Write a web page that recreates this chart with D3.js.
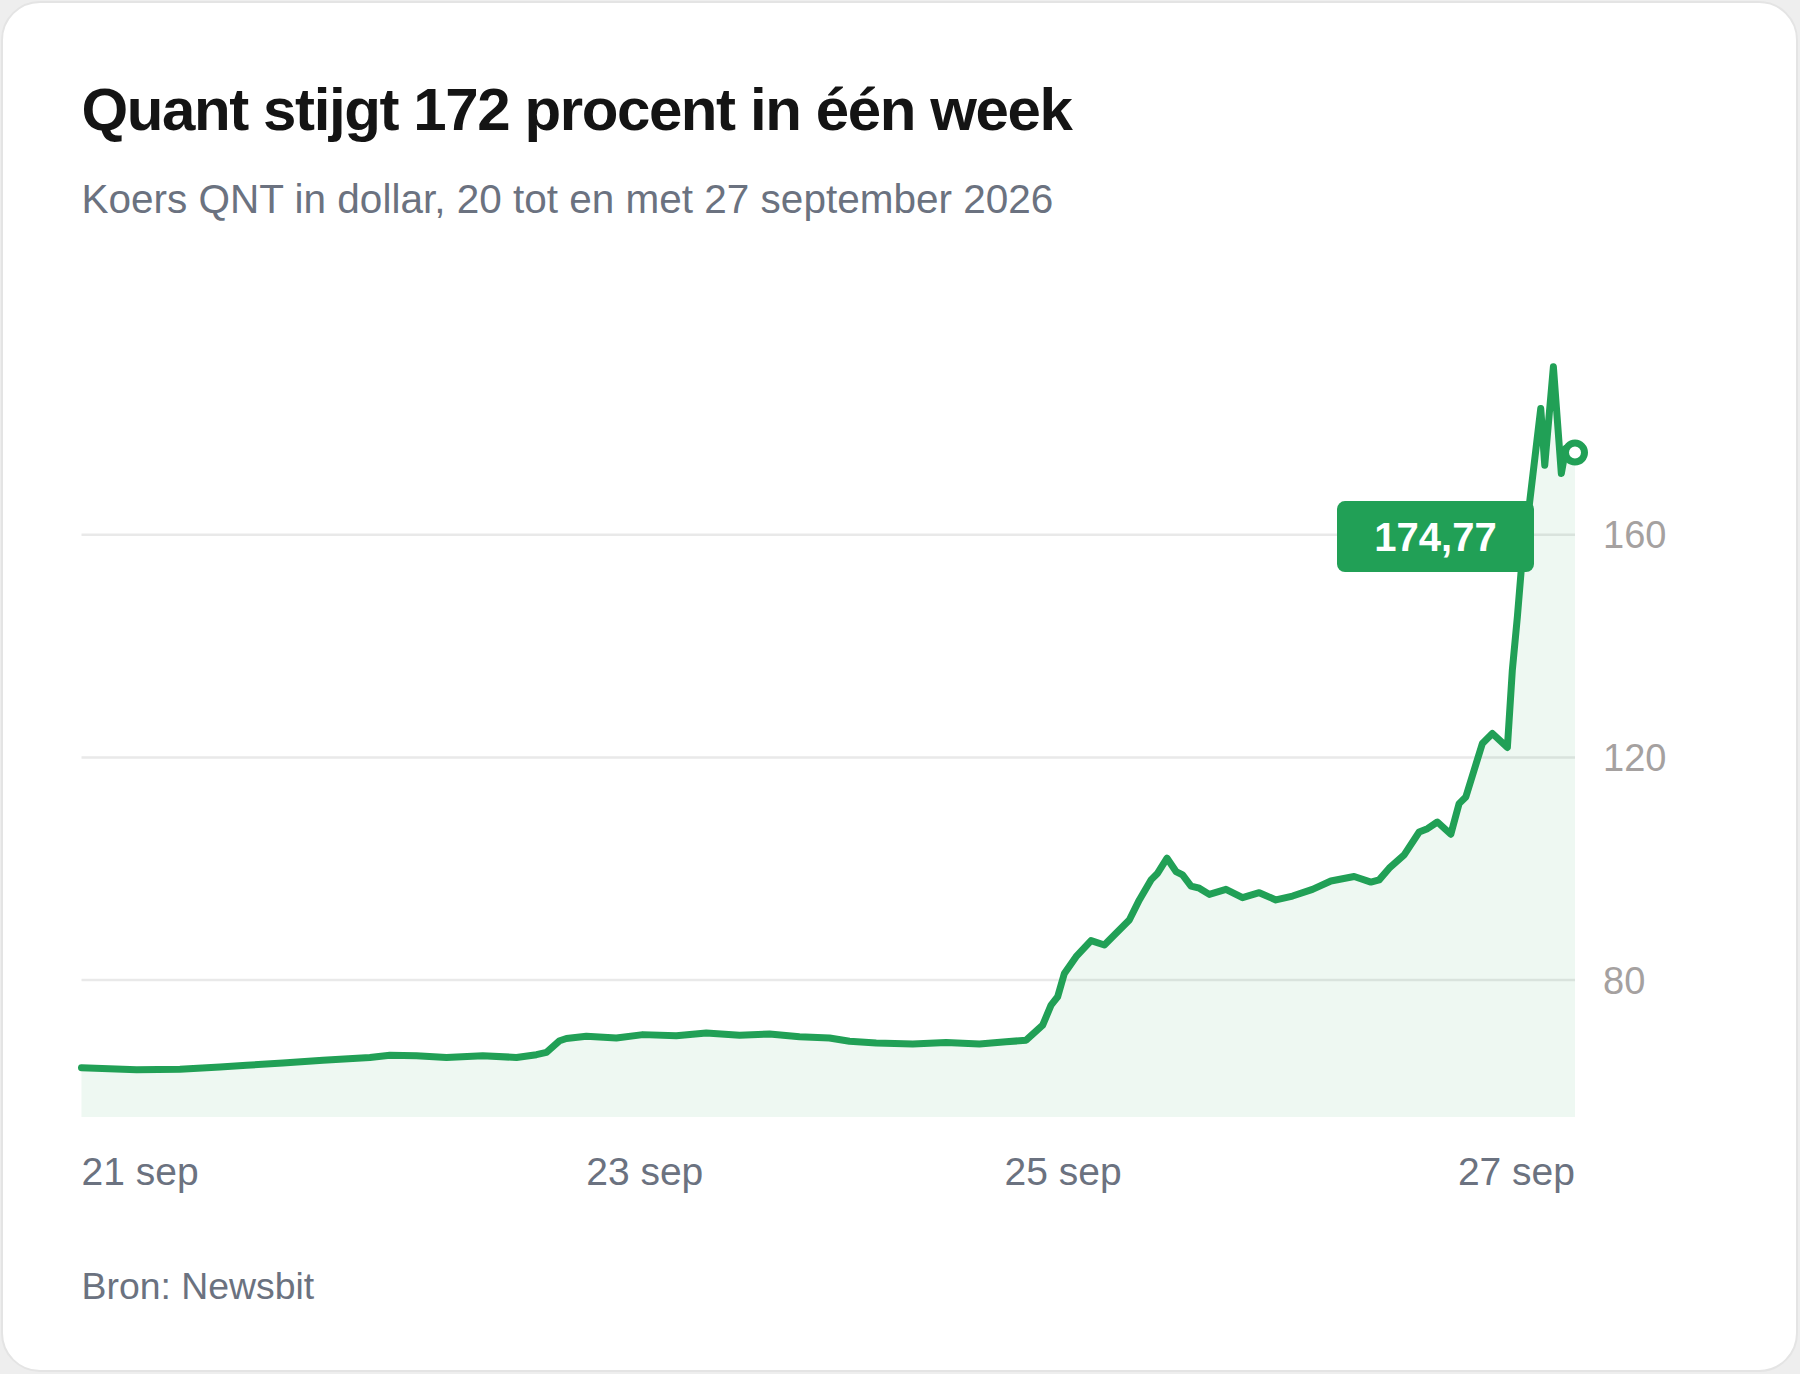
<!DOCTYPE html>
<html>
<head>
<meta charset="utf-8">
<script src="https://cdn.jsdelivr.net/npm/d3@7"></script>
<style>
  body { margin: 0; background: #eeeeee; font-family: "Liberation Sans", Arial, sans-serif; }
  svg { display: block; }
</style>
</head>
<body>
<svg id="chart" width="1800" height="1374"></svg>
<script>
// hours since 20 sep 00:00, price in dollar
var hours = [7.37, 13.7, 18.67, 23.26, 26.32, 30.48, 35.07, 40.46, 42.75, 45.81,
  49.25, 53.41, 57.28, 59.57, 60.72, 62.24, 63.01, 65.3, 68.74, 71.79,
  75.62, 79.06, 82.88, 86.32, 89.76, 93.2, 95.5, 98.56, 102.75, 106.58,
  110.4, 113.46, 115.76, 117.66, 118.62, 119.38, 120.15, 121.49, 123.21, 124.74,
  126.08, 127.6, 128.75, 130.09, 130.85, 131.93, 132.96, 133.71, 134.68, 135.63,
  136.78, 138.69, 140.59, 142.51, 144.42, 146.33, 148.62, 150.73, 153.4, 155.32,
  156.27, 157.42, 159.14, 160.86, 161.81, 162.95, 164.49, 165.44, 166.21, 167.16,
  168.11, 169.26, 170.98, 171.55, 172.13, 172.63, 173.47, 174.81, 175.27, 176.26,
  177.17, 177.68, 178.74];
var prices = [64.25, 63.9, 64.0, 64.4, 64.7, 65.1, 65.6, 66.1, 66.5, 66.4,
  66.1, 66.4, 66.1, 66.6, 67.0, 69.1, 69.5, 69.9, 69.6, 70.2,
  70.0, 70.5, 70.1, 70.3, 69.8, 69.6, 69.0, 68.7, 68.5, 68.8,
  68.5, 68.9, 69.2, 71.9, 75.5, 77.0, 81.2, 84.2, 87.1, 86.3,
  88.4, 90.8, 94.4, 98.0, 99.2, 101.9, 99.5, 98.9, 96.9, 96.5,
  95.4, 96.3, 94.8, 95.7, 94.4, 95.1, 96.3, 97.8, 98.6, 97.6,
  98.0, 100.1, 102.5, 106.6, 107.2, 108.4, 106.2, 111.7, 112.9, 117.7,
  122.5, 124.3, 121.8, 135.7, 145.3, 154.8, 165.0, 182.7, 172.5, 190.2,
  171.0, 175.5, 174.77];

var yTicks = [80, 120, 160];
var xTickLabels = ["21 sep", "23 sep", "25 sep", "27 sep"];
var xTickHours = [hours[0], 72, 120, hours[hours.length - 1]];

var title = "Quant stijgt 172 procent in één week";
var subtitle = "Koers QNT in dollar, 20 tot en met 27 september 2026";
var source = "Bron: Newsbit";

var green = "#21a056";
var plotLeft = 81.5, plotRight = 1575, plotTop = 340, plotBottom = 1117;

var data = hours.map(function(h, i){ return {h: h, v: prices[i]}; });

var svg = d3.select("#chart");

/*
    card
*/
svg.append("rect")
    .attr("x", 2).attr("y", 2)
    .attr("width", 1795).attr("height", 1369)
    .attr("rx", 38)
    .attr("fill", "#ffffff")
    .attr("stroke", "#e4e4e4")
    .attr("stroke-width", 2);

svg.append("text").text(title)
    .attr("x", plotLeft).attr("y", 130)
    .attr("font-size", 60)
    .attr("font-weight", "bold")
    .attr("letter-spacing", "-1.4px")
    .attr("fill", "#141414");

svg.append("text").text(subtitle)
    .attr("x", plotLeft).attr("y", 213)
    .attr("font-size", 40.5)
    .attr("fill", "#6b7280");

var x = d3.scaleLinear()
    .domain(d3.extent(hours))
    .range([plotLeft, plotRight]);

var y = d3.scaleLinear()
    .domain([55.4, 195])
    .range([plotBottom, plotTop]);

// gridlines
svg.append("g").selectAll("line")
    .data(yTicks).enter().append("line")
    .attr("x1", plotLeft).attr("x2", plotRight)
    .attr("y1", function(d){ return y(d); })
    .attr("y2", function(d){ return y(d); })
    .attr("stroke", "#e9e9e9")
    .attr("stroke-width", 2.5);

svg.append("g").selectAll("text")
    .data(yTicks).enter().append("text")
    .text(function(d){ return d; })
    .attr("x", plotRight + 28)
    .attr("y", function(d){ return y(d); })
    .attr("dy", "0.36em")
    .attr("font-size", 38)
    .attr("fill", "#a5a1a0");

svg.append("path")
    .datum(data)
    .attr("fill", green)
    .attr("fill-opacity", 0.08)
    .attr("d", d3.area()
        .x(function(d){ return x(d.h); })
        .y0(plotBottom)
        .y1(function(d){ return y(d.v); }));

svg.append("path")
    .datum(data)
    .attr("fill", "none")
    .attr("stroke", green)
    .attr("stroke-width", 7)
    .attr("stroke-linejoin", "round")
    .attr("stroke-linecap", "round")
    .attr("d", d3.line()
        .x(function(d){ return x(d.h); })
        .y(function(d){ return y(d.v); }));

// x labels, first and last pinned to the plot edges
svg.append("g").selectAll("text")
    .data(xTickLabels).enter().append("text")
    .text(function(d){ return d; })
    .attr("x", function(d, i){ return x(xTickHours[i]); })
    .attr("y", 1185)
    .attr("text-anchor", function(d, i){
        if(i == 0) return "start";
        if(i == xTickLabels.length - 1) return "end";
        return "middle";
    })
    .attr("font-size", 39)
    .attr("fill", "#6b7280");

svg.append("text").text(source)
    .attr("x", plotLeft).attr("y", 1299)
    .attr("font-size", 37.4)
    .attr("fill", "#6b7280");

/*
    last value: marker + badge
*/
var last = data[data.length - 1];
var lx = x(last.h), ly = y(last.v);

var badge = svg.append("g")
    .attr("transform", "translate(" + (lx - 41 - 197) + "," + (ly + 84 - 35.5) + ")");
badge.append("rect")
    .attr("width", 197).attr("height", 71)
    .attr("rx", 8)
    .attr("fill", green);
badge.append("text")
    .text(d3.format(".2f")(last.v).replace(".", ","))
    .attr("x", 98.5).attr("y", 35.5)
    .attr("dy", "0.36em")
    .attr("text-anchor", "middle")
    .attr("font-size", 40)
    .attr("font-weight", "bold")
    .attr("fill", "#ffffff");

svg.append("circle")
    .attr("cx", lx).attr("cy", ly)
    .attr("r", 9.5)
    .attr("fill", "#ffffff")
    .attr("stroke", green)
    .attr("stroke-width", 7);
</script>
</body>
</html>
